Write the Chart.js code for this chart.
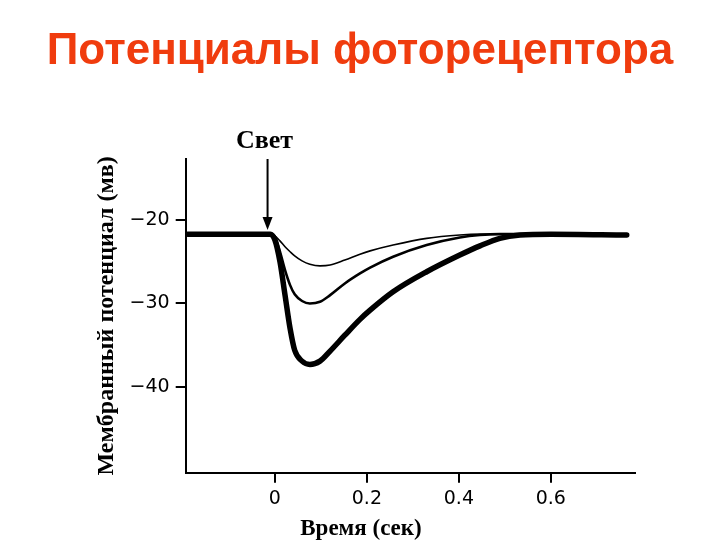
<!DOCTYPE html>
<html>
<head>
<meta charset="utf-8">
<script src="https://cdn.jsdelivr.net/npm/chart.js@4.4.1/dist/chart.umd.min.js"></script>
<style>
  html, body { margin: 0; padding: 0; background: #fff; }
  #wrap { width: 720px; height: 540px; position: relative; }
</style>
</head>
<body>
<div id="wrap"><canvas id="c"></canvas></div>
<script>
// ── Data (time in s, potential in mV) ──
var times  = [-0.19, -0.01, 0, 0.011, 0.022, 0.033, 0.043, 0.059, 0.076, 0.098, 0.12, 0.152, 0.185, 0.207, 0.257, 0.33, 0.402, 0.446, 0.489, 0.533, 0.6, 0.765];
var dimV   = [-21.7, -21.7, -21.9, -22.5, -23.2, -23.8, -24.3, -24.9, -25.3, -25.5, -25.4, -24.8, -24.1, -23.7, -23.0, -22.2, -21.8, -21.7, -21.7, -21.7, -21.7, -21.8];
var midV   = [-21.7, -21.7, -22.0, -23.8, -26.0, -27.8, -28.9, -29.7, -30.0, -29.8, -29.0, -27.6, -26.4, -25.7, -24.4, -23.0, -22.1, -21.8, -21.7, -21.7, -21.7, -21.8];
var brightV = [-21.7, -21.7, -22.4, -25.0, -29.0, -33.0, -35.6, -36.9, -37.3, -36.9, -35.7, -33.8, -31.9, -30.8, -28.6, -26.2, -24.2, -23.1, -22.2, -21.8, -21.7, -21.8];

var xTicks = [0, 0.2, 0.4, 0.6];
var yTicks = [-20, -30, -40];

var lightOnset = -0.016;   // arrow "Свет"
var arrowTip = -21.2;

function pts(vals) {
  var out = [];
  for (var i = 0; i < times.length; i++) out.push({ x: times[i], y: vals[i] });
  return out;
}

function line(vals, w) {
  return {
    data: pts(vals),
    borderColor: '#000',
    borderWidth: w,
    pointRadius: 0,
    fill: false,
    cubicInterpolationMode: 'monotone',
    borderCapStyle: 'round',
    borderJoinStyle: 'round'
  };
}

// ── Title, arrow, "Свет" and x-axis caption ──
var annotate = {
  id: 'annotate',
  afterDraw: function(chart) {
    var ctx = chart.ctx;
    var xs = chart.scales.x, ys = chart.scales.y;
    var ax = xs.getPixelForValue(lightOnset);
    var top = chart.chartArea.top;
    var tip = ys.getPixelForValue(arrowTip);
    ctx.save();
    ctx.textAlign = 'center';
    ctx.textBaseline = 'alphabetic';
    ctx.fillStyle = '#f03c0e';
    ctx.font = 'bold 44px "Liberation Sans", Arial, sans-serif';
    ctx.fillText('Потенциалы фоторецептора', 360, 64);

    ctx.strokeStyle = '#000';
    ctx.fillStyle = '#000';
    ctx.lineWidth = 2;
    ctx.beginPath();
    ctx.moveTo(ax, top);
    ctx.lineTo(ax, tip - 10);
    ctx.stroke();
    ctx.beginPath();
    ctx.moveTo(ax - 5, tip - 13);
    ctx.lineTo(ax + 5, tip - 13);
    ctx.lineTo(ax, tip);
    ctx.closePath();
    ctx.fill();

    ctx.font = 'bold 26px "Liberation Serif"';
    ctx.fillText('Свет', ax - 3, top - 11);

    ctx.font = 'bold 23px "Liberation Serif"';
    ctx.fillText('Время (сек)', 361, 535);
    ctx.restore();
  }
};

new Chart(document.getElementById('c'), {
  type: 'line',
  data: {
    datasets: [line(dimV, 1.6), line(midV, 2.6), line(brightV, 5.5)]
  },
  plugins: [annotate],
  options: {
    responsive: true,
    maintainAspectRatio: false,
    devicePixelRatio: 1,
    animation: false,
    layout: { padding: { left: 92.6, right: 85, top: 159, bottom: 0 } },
    plugins: {
      legend: { display: false },
      tooltip: { enabled: false },
      title: { display: false }
    },
    scales: {
      x: {
        type: 'linear',
        min: -0.194,
        max: 0.783,
        afterFit: function(s) { s.height = 67.3; },
        afterBuildTicks: function(s) { s.ticks = xTicks.map(function(v) { return { value: v }; }); },
        grid: { drawOnChartArea: false, drawTicks: true, tickLength: 10, color: '#000', lineWidth: 2 },
        border: { display: true, color: '#000', width: 2 },
        ticks: {
          color: '#000',
          padding: 5,
          maxRotation: 0,
          font: { family: '"DejaVu Sans", sans-serif', size: 19 },
          callback: function(v) { return v === 0 ? '0' : v.toFixed(1); }
        }
      },
      y: {
        min: -50.26,
        max: -12.7,
        afterFit: function(s) { s.width = 93.1; },
        afterBuildTicks: function(s) { s.ticks = yTicks.map(function(v) { return { value: v }; }); },
        grid: { drawOnChartArea: false, drawTicks: true, tickLength: 10, color: '#000', lineWidth: 2 },
        border: { display: true, color: '#000', width: 2 },
        ticks: {
          color: '#000',
          padding: 6,
          font: { family: '"DejaVu Sans", sans-serif', size: 19 },
          callback: function(v) { return v < 0 ? '\u2212' + Math.abs(v) : String(v); }
        },
        title: {
          display: true,
          text: 'Мембранный потенциал (мв)',
          color: '#000',
          padding: 0,
          font: { family: '"Liberation Serif", serif', size: 24, weight: 'bold' }
        }
      }
    }
  }
});
</script>
</body>
</html>
